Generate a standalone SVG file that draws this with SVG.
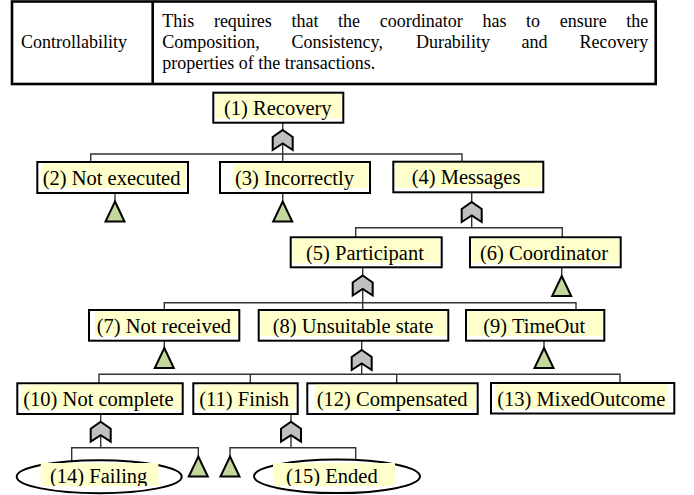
<svg xmlns="http://www.w3.org/2000/svg" width="694" height="495" viewBox="0 0 694 495">
  <style>
    .tbl { fill: none; stroke: #000; stroke-width: 2.6; }
    .tt { font-family: "Liberation Serif", "Times New Roman", serif; font-size: 18px; fill: #000; }
    .box { fill: #fff; stroke: #000; stroke-width: 2; }
    .hl { fill: #ffffcc; }
    .lbl { font-family: "Liberation Serif", "Times New Roman", serif; font-size: 20.5px; fill: #000; }
    .wire { fill: none; stroke: #333; stroke-width: 1.4; }
    .gate { fill: #c0c0c0; stroke: #000; stroke-width: 2; stroke-linejoin: miter; }
    .tri { fill: #c3d69b; stroke: #000; stroke-width: 2; stroke-linejoin: miter; }
  </style>
  <defs>
    <!-- AND gate: pointed top, notched bottom, anchored at its top point -->
    <polygon id="andGate" points="0,0 10,7 10,20 0,13.5 -10,20 -10,7"/>
    <!-- transfer triangle, apex at (0,0) -->
    <polygon id="xfer" points="0,0 9.5,20 -9.5,20"/>
    <clipPath id="clipLow"><rect x="0" y="0" width="694" height="486"/></clipPath>
  </defs>

  <!-- requirement table -->
  <g id="table">
    <rect class="tbl" x="12" y="1.5" width="643.7" height="82.5"/>
    <line class="tbl" x1="152.7" y1="1.5" x2="152.7" y2="84"/>
    <text class="tt" x="21" y="48">Controllability</text>
    <text class="tt" y="27"><tspan x="162.3">This</tspan><tspan x="213.9">requires</tspan><tspan x="291.5">that</tspan><tspan x="338.1">the</tspan><tspan x="379.8">coordinator</tspan><tspan x="482.4">has</tspan><tspan x="526">to</tspan><tspan x="559.7">ensure</tspan><tspan x="626.3">the</tspan></text>
    <text class="tt" y="48"><tspan x="162.3">Composition,</tspan><tspan x="291.6">Consistency,</tspan><tspan x="415.9">Durability</tspan><tspan x="521.6">and</tspan><tspan x="579.4">Recovery</tspan></text>
    <text class="tt" x="162.3" y="69">properties of the transactions.</text>
  </g>

  <!-- connectors -->
  <g id="connectors">
    <path class="wire" d="M282.7,122.7 V162 M90.7,162 V154 H462 V161.7"/>
    <path class="wire" d="M115,193 V201 M282.7,193 V201"/>
    <path class="wire" d="M471.7,192.3 V227.7 M355.7,237.3 V227.7 H562.3 V237.3"/>
    <path class="wire" d="M362.7,267.3 V310 M561.7,267.3 V276 M164.3,310 V302.7 H576 V310"/>
    <path class="wire" d="M164.3,340.7 V348 M361.7,340.7 V374.3 M544,340.7 V348.3"/>
    <path class="wire" d="M99,383.3 V374.3 H620 V382.3 M250.3,374.3 V383.3 M396.7,374.3 V383.3"/>
    <path class="wire" d="M100.7,414 V447.7 M71.7,462 V447.7 H198.3 V456.7"/>
    <path class="wire" d="M291,414 V447.7 M230,456.7 V447.7 H355.7 V459.5"/>
  </g>

  <!-- gates and transfer symbols -->
  <g id="symbols">
    <use href="#andGate" class="gate" x="282.7" y="130"/>
    <use href="#xfer" class="tri" x="115" y="201.5"/>
    <use href="#xfer" class="tri" x="282.7" y="201.5"/>
    <use href="#andGate" class="gate" x="471.7" y="202"/>
    <use href="#andGate" class="gate" x="362.7" y="275.5"/>
    <use href="#xfer" class="tri" x="561.7" y="276"/>
    <use href="#xfer" class="tri" x="164.3" y="348"/>
    <use href="#andGate" class="gate" x="361.7" y="350"/>
    <use href="#xfer" class="tri" x="544" y="348"/>
    <use href="#andGate" class="gate" x="100.7" y="421.7"/>
    <use href="#andGate" class="gate" x="291" y="421.7"/>
    <use href="#xfer" class="tri" x="198.3" y="456.5"/>
    <use href="#xfer" class="tri" x="230" y="456.5"/>
  </g>

  <g id="n1">
    <rect class="box" x="213.3" y="92.7" width="130" height="30"/>
    <rect class="hl" x="215" y="94" width="127" height="24.5"/>
    <text class="lbl" x="224" y="115">(1) Recovery</text>
  </g>
  <g id="n2">
    <rect class="box" x="37.3" y="162" width="150.7" height="31"/>
    <rect class="hl" x="42" y="163.5" width="144" height="24.5"/>
    <text class="lbl" x="42.7" y="184.5">(2) Not executed</text>
  </g>
  <g id="n3">
    <rect class="box" x="220" y="162" width="150" height="31"/>
    <rect class="hl" x="233" y="163.5" width="135.5" height="24.5"/>
    <text class="lbl" x="235" y="184.5">(3) Incorrectly</text>
  </g>
  <g id="n4">
    <rect class="box" x="393.3" y="161.7" width="150" height="30.6"/>
    <rect class="hl" x="395" y="163" width="146.5" height="24.5"/>
    <text class="lbl" x="411.7" y="184.3">(4) Messages</text>
  </g>
  <g id="n5">
    <rect class="box" x="290.7" y="237.3" width="151" height="30"/>
    <rect class="hl" x="292.5" y="238.6" width="147.5" height="24.5"/>
    <text class="lbl" x="306" y="259.8">(5) Participant</text>
  </g>
  <g id="n6">
    <rect class="box" x="470" y="237.3" width="150.7" height="30"/>
    <rect class="hl" x="471.7" y="238.6" width="147.3" height="24.5"/>
    <text class="lbl" x="480" y="259.8">(6) Coordinator</text>
  </g>
  <g id="n7">
    <rect class="box" x="89" y="310" width="150.3" height="30.7"/>
    <rect class="hl" x="95" y="311.4" width="142.6" height="24.5"/>
    <text class="lbl" x="96.7" y="332.5">(7) Not received</text>
  </g>
  <g id="n8">
    <rect class="box" x="258.7" y="310" width="189.6" height="30.7"/>
    <rect class="hl" x="260.4" y="311.4" width="186.2" height="24.5"/>
    <text class="lbl" x="272.7" y="332.5">(8) Unsuitable state</text>
  </g>
  <g id="n9">
    <rect class="box" x="466" y="310" width="138.3" height="30.7"/>
    <rect class="hl" x="467.7" y="311.4" width="134.9" height="24.5"/>
    <text class="lbl" x="483.3" y="332.5">(9) TimeOut</text>
  </g>
  <g id="n10">
    <rect class="box" x="17.3" y="383.3" width="165.4" height="30.7"/>
    <rect class="hl" x="21.5" y="384.7" width="159.5" height="24.5"/>
    <text class="lbl" x="23.3" y="405.7">(10) Not complete</text>
  </g>
  <g id="n11">
    <rect class="box" x="193.3" y="383.3" width="104.4" height="30.7"/>
    <rect class="hl" x="197.5" y="384.7" width="98.5" height="24.5"/>
    <text class="lbl" x="199.3" y="405.7">(11) Finish</text>
  </g>
  <g id="n12">
    <rect class="box" x="307.3" y="383.3" width="170.4" height="30.7"/>
    <rect class="hl" x="315" y="384.7" width="161" height="24.5"/>
    <text class="lbl" x="316.7" y="405.7">(12) Compensated</text>
  </g>
  <g id="n13">
    <rect class="box" x="491" y="383" width="183.3" height="30.5"/>
    <rect class="hl" x="495.5" y="384.4" width="172" height="24.5"/>
    <text class="lbl" x="497.3" y="405.5">(13) MixedOutcome</text>
  </g>
  <g id="n14">
    <ellipse class="box" cx="99.2" cy="476.7" rx="82.5" ry="16.5"/>
    <rect class="hl" x="40.7" y="463" width="117.6" height="23"/>
    <text class="lbl" x="50" y="483" clip-path="url(#clipLow)">(14) Failing</text>
  </g>
  <g id="n15">
    <ellipse class="box" cx="337" cy="476.3" rx="83" ry="16.8"/>
    <rect class="hl" x="273" y="463" width="122" height="23"/>
    <text class="lbl" x="286" y="483" clip-path="url(#clipLow)">(15) Ended</text>
  </g>
</svg>
